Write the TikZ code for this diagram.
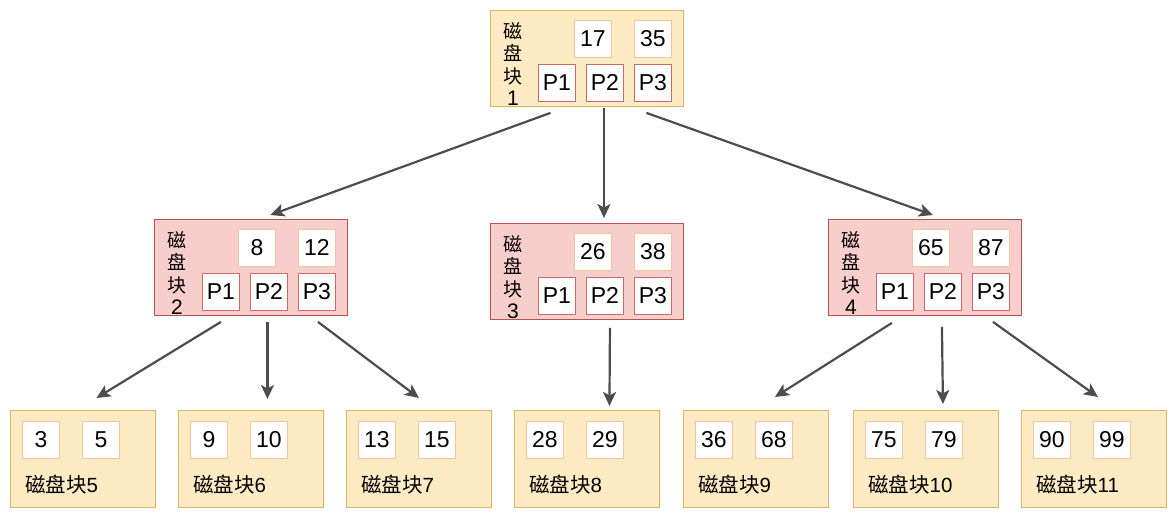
\documentclass[tikz,border=0pt]{standalone}
\usepackage{fontspec}
\setmainfont{Liberation Sans}
\newfontfamily\cjk{Noto Sans CJK SC}
\usetikzlibrary{arrows.meta,calc}
\definecolor{yfill}{HTML}{FEEBC4}
\definecolor{ydraw}{HTML}{D9B66A}
\definecolor{rfill}{HTML}{F8CECC}
\definecolor{rdraw}{HTML}{B85450}
\definecolor{kdraw}{HTML}{F0C4A0}
\definecolor{pdraw}{HTML}{C96A66}
\definecolor{arrc}{HTML}{4D4D4D}
\tikzset{
  blk/.style={draw=ydraw, fill=yfill, line width=0.9pt, minimum width=193pt, minimum height=96pt, anchor=north west, inner sep=0pt},
  rblk/.style={blk, draw=rdraw, fill=rfill},
  lblk/.style={blk, minimum width=145pt, minimum height=97pt},
  keybox/.style={draw=kdraw, fill=white, line width=0.9pt, minimum width=37pt, minimum height=37pt, anchor=north west, inner sep=0pt, font=\fontsize{23}{23}\selectfont},
  pbox/.style={keybox, draw=pdraw},
  vlab/.style={align=center, inner sep=0pt, font=\fontsize{19}{22.5}\selectfont\cjk},
  llab/.style={anchor=west, inner sep=0pt, font=\fontsize{20.5}{20.5}\selectfont},
  arr/.style={draw=arrc, line width=2.2pt, -{Stealth[length=14pt,width=13pt,inset=3.5pt]}}
}
% name, L, T, style, label number, key1, key2
\newcommand{\mynodeblock}[7]{%
  \node[#4] (#1) at (#2,#3) {};
  \node[vlab] (#1l) at ($(#2,#3)+(23,54)$) {磁\\盘\\块\\{\fontspec{Liberation Sans}\fontsize{21}{22.5}\selectfont #5}};
  \node[keybox] (#1k1) at ($(#2,#3)+(84,10)$) {#6};
  \node[keybox] (#1k2) at ($(#2,#3)+(144,10)$) {#7};
  \node[pbox] (#1p1) at ($(#2,#3)+(48,54)$) {P1};
  \node[pbox] (#1p2) at ($(#2,#3)+(96,54)$) {P2};
  \node[pbox] (#1p3) at ($(#2,#3)+(144,54)$) {P3};
}
% name, L, label number, key1, key2
\newcommand{\myleaf}[5]{%
  \node[lblk] (#1) at (#2,410) {};
  \node[keybox] (#1k1) at ($(#2,410)+(12,11)$) {#4};
  \node[keybox] (#1k2) at ($(#2,410)+(72,11)$) {#5};
  \node[llab] (#1l) at ($(#2,410)+(15,75)$) {{\cjk 磁盘块}#3};
}
\begin{document}
\begin{tikzpicture}[x=1pt,y=-1pt]
\useasboundingbox[fill=white] (0,0) rectangle (1176,518);
\mynodeblock{b1}{490}{10}{blk}{1}{17}{35}
\mynodeblock{b2}{154}{219}{rblk}{2}{8}{12}
\mynodeblock{b3}{490}{223}{rblk}{3}{26}{38}
\mynodeblock{b4}{828}{219}{rblk}{4}{65}{87}
\myleaf{l5}{10}{5}{3}{5}
\myleaf{l6}{178}{6}{9}{10}
\myleaf{l7}{346}{7}{13}{15}
\myleaf{l8}{514}{8}{28}{29}
\myleaf{l9}{683}{9}{36}{68}
\myleaf{l10}{853}{10}{75}{79}
\myleaf{l11}{1021}{11}{90}{99}
% arrows
\draw[arr] ([shift={(-6.5,11)}]b1p1.south) -- ([shift={(19.5,-4)}]b2.north);
\draw[arr] ([shift={(-1,6)}]b1p2.south) -- ([shift={(17,-5)}]b3.north);
\draw[arr] ([shift={(-6.5,11)}]b1p3.south) -- ([shift={(8,-4)}]b4.north);
\draw[arr] ([shift={(0,11)}]b2p1.south) -- ([shift={(13.5,-12)}]l5.north);
\draw[arr] ([shift={(-1.5,11)}]b2p2.south) -- ([shift={(16.5,-11)}]l6.north);
\draw[arr] ([shift={(1,11)}]b2p3.south) -- ([shift={(0,-12)}]l7.north);
\draw[arr] ([shift={(5,13)}]b3p2.south) -- ([shift={(22.5,-4)}]l8.north);
\draw[arr] ([shift={(-3,12)}]b4p1.south) -- ([shift={(19,-13)}]l9.north);
\draw[arr] ([shift={(-1,16)}]b4p2.south) -- ([shift={(17,-6)}]l10.north);
\draw[arr] ([shift={(2,11)}]b4p3.south) -- ([shift={(4,-13)}]l11.north);
\end{tikzpicture}
\end{document}
